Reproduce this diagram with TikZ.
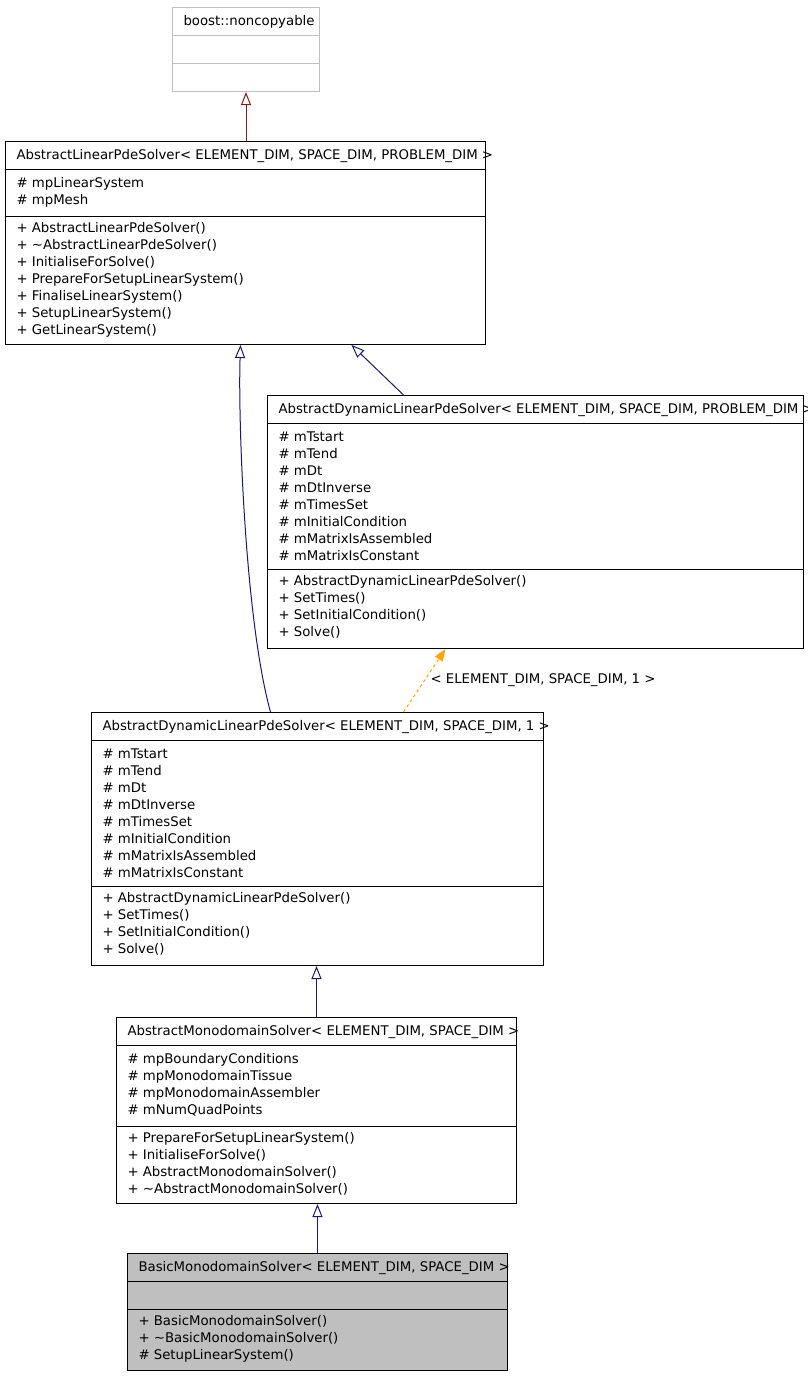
\documentclass[tikz,border=0pt]{standalone}
\usepackage{fontspec}
\setmainfont{DejaVu Sans}
\usetikzlibrary{arrows.meta,calc}

\definecolor{edgeblue}{HTML}{191970}
\definecolor{edgered}{HTML}{8B1A1A}
\definecolor{tplorange}{HTML}{FFA500}
\definecolor{boxgrey}{HTML}{BFBFBF}

% one class box: name, left, top, width, height, title
\newcommand{\umlclass}[6]{%
  \node[clsframe,minimum width=#4pt,minimum height=#5pt] (#1) at (#2,#3) {};
  \node[member] (#1-t) at ($(#1.north west)+(11,18)$) {#6};}
% horizontal rule inside a box, offset from its top
\newcommand{\umlsep}[2]{%
  \draw[#1-line] ($(#1.north west)+(0,#2)$) -- ($(#1.north east)+(0,#2)$);}
% a block of members: box, prefix, first baseline, list
\newcommand{\umlmembers}[4]{%
  \foreach \m [count=\i] in {#4}{
    \node[member] (#1-#2\i) at ($(#1.north west)+(11,#3+17*\i-17)$) {\m};}}

\begin{document}
\begin{tikzpicture}[x=1pt,y=-1pt,line width=1pt,
  font=\fontsize{13.3}{17}\selectfont,
  clsframe/.style={draw,rectangle,inner sep=0pt,anchor=north west},
  member/.style={anchor=base west,inner sep=0pt},
  inherit/.style={edgeblue,-{Triangle[open,length=13pt,width=10pt]}},
  ncp-line/.style={boxgrey},alps-line/.style={},adlps-line/.style={},
  adlpsone-line/.style={},ams-line/.style={},bms-line/.style={}]
\useasboundingbox (0,0) rectangle (808,1376);

% boost::noncopyable, greyed out
\node[clsframe,draw=boxgrey,minimum width=147pt,minimum height=84pt] (ncp) at (172,7) {};
\node[member] (ncp-t) at ($(ncp.north west)+(11,18)$) {boost::noncopyable};
\umlsep{ncp}{28} \umlsep{ncp}{56}

% AbstractLinearPdeSolver
\umlclass{alps}{5}{141}{480}{203}{AbstractLinearPdeSolver< ELEMENT\_DIM, SPACE\_DIM, PROBLEM\_DIM >}
\umlsep{alps}{28} \umlsep{alps}{75}
\umlmembers{alps}{a}{46}{\# mpLinearSystem,\# mpMesh}
\umlmembers{alps}{m}{91}{+ AbstractLinearPdeSolver(),+ \textasciitilde AbstractLinearPdeSolver(),
  + InitialiseForSolve(),+ PrepareForSetupLinearSystem(),+ FinaliseLinearSystem(),
  + SetupLinearSystem(),+ GetLinearSystem()}

% AbstractDynamicLinearPdeSolver, generic
\umlclass{adlps}{267}{395}{536}{253}{AbstractDynamicLinearPdeSolver< ELEMENT\_DIM, SPACE\_DIM, PROBLEM\_DIM >}
\umlsep{adlps}{28} \umlsep{adlps}{174}
\umlmembers{adlps}{a}{46}{\# mTstart,\# mTend,\# mDt,\# mDtInverse,\# mTimesSet,
  \# mInitialCondition,\# mMatrixIsAssembled,\# mMatrixIsConstant}
\umlmembers{adlps}{m}{190}{+ AbstractDynamicLinearPdeSolver(),+ SetTimes(),
  + SetInitialCondition(),+ Solve()}

% AbstractDynamicLinearPdeSolver, PROBLEM_DIM = 1
\umlclass{adlpsone}{91}{712}{452}{253}{AbstractDynamicLinearPdeSolver< ELEMENT\_DIM, SPACE\_DIM, 1 >}
\umlsep{adlpsone}{28} \umlsep{adlpsone}{174}
\umlmembers{adlpsone}{a}{46}{\# mTstart,\# mTend,\# mDt,\# mDtInverse,\# mTimesSet,
  \# mInitialCondition,\# mMatrixIsAssembled,\# mMatrixIsConstant}
\umlmembers{adlpsone}{m}{190}{+ AbstractDynamicLinearPdeSolver(),+ SetTimes(),
  + SetInitialCondition(),+ Solve()}

% AbstractMonodomainSolver
\umlclass{ams}{116}{1017}{400}{186}{AbstractMonodomainSolver< ELEMENT\_DIM, SPACE\_DIM >}
\umlsep{ams}{28} \umlsep{ams}{109}
\umlmembers{ams}{a}{46}{\# mpBoundaryConditions,\# mpMonodomainTissue,
  \# mpMonodomainAssembler,\# mNumQuadPoints}
\umlmembers{ams}{m}{125}{+ PrepareForSetupLinearSystem(),+ InitialiseForSolve(),
  + AbstractMonodomainSolver(),+ \textasciitilde AbstractMonodomainSolver()}

% BasicMonodomainSolver, the class itself
\node[clsframe,fill=boxgrey,minimum width=380pt,minimum height=117pt] (bms) at (127,1253) {};
\node[member] (bms-t) at ($(bms.north west)+(11,18)$) {BasicMonodomainSolver< ELEMENT\_DIM, SPACE\_DIM >};
\umlsep{bms}{28} \umlsep{bms}{56}
\umlmembers{bms}{m}{72}{+ BasicMonodomainSolver(),+ \textasciitilde BasicMonodomainSolver(),
  \# SetupLinearSystem()}

% inheritance
\draw[inherit,edgered] (ncp.south |- alps.north) -- (ncp.south);
\draw[inherit] ([xshift=-132pt]adlps.north) -- ([xshift=106pt]alps.south);
\draw[inherit] ([xshift=-47pt]adlpsone.north)
  .. controls (245,620) and (238,420) .. ([xshift=-5pt]alps.south);
\draw[inherit] (ams.north) -- (ams.north |- adlpsone.south);
\draw[inherit] (bms.north) -- (bms.north |- ams.south);

% template instantiation
\draw[tplorange,dashed,-{Triangle[length=12pt,width=9pt]}]
  ([xshift=86pt]adlpsone.north) -- ([xshift=-90pt]adlps.south);
\node[member] (tpl) at (430,683) {< ELEMENT\_DIM, SPACE\_DIM, 1 >};
\end{tikzpicture}
\end{document}
